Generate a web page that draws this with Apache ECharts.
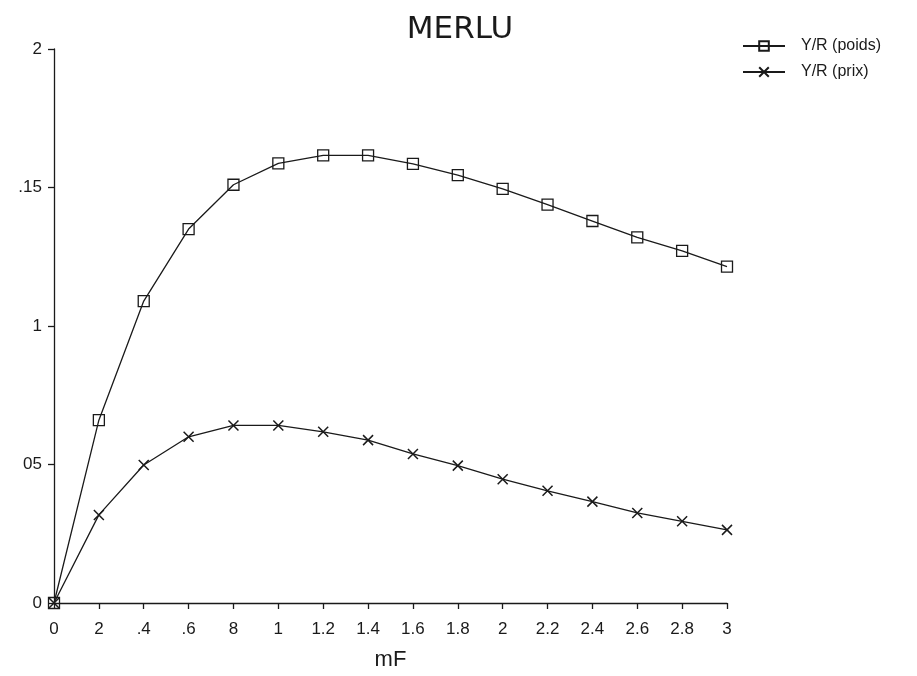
<!DOCTYPE html>
<html>
<head>
<meta charset="utf-8">
<script src="https://cdn.jsdelivr.net/npm/echarts@6/dist/echarts.min.js"></script>
<style>
html,body{margin:0;padding:0;background:#fff;}
#chart{width:917px;height:676px;}
</style>
</head>
<body>
<div id="chart"></div>
<script>
const titleText = "MERLU";
const xName = "mF";
const mF = [0, 0.2, 0.4, 0.6, 0.8, 1.0, 1.2, 1.4, 1.6, 1.8, 2.0, 2.2, 2.4, 2.6, 2.8, 3.0];
const yrPoids = [0, 0.066, 0.109, 0.135, 0.151, 0.1587, 0.1616, 0.1616, 0.1585, 0.1545, 0.1495, 0.1438, 0.1379, 0.132, 0.1271, 0.1214];
const yrPrix = [0, 0.0318, 0.0498, 0.060, 0.0641, 0.0641, 0.0618, 0.0588, 0.0538, 0.0496, 0.0447, 0.0405, 0.0366, 0.0325, 0.0295, 0.0264];
const xTickLabels = ["0", "2", ".4", ".6", "8", "1", "1.2", "1.4", "1.6", "1.8", "2", "2.2", "2.4", "2.6", "2.8", "3"];
const yTickLabels = ["0", "05", "1", ".15", "2"];
const seriesNames = ["Y/R (poids)", "Y/R (prix)"];

const ink = '#1a1a1a';
const font = 'Liberation Sans';
const chart = echarts.init(document.getElementById('chart'));

function pairs(xs, ys) { return xs.map((x, i) => [x, ys[i]]); }

chart.setOption({
  backgroundColor: '#fff',
  animation: false,
  title: {
    text: titleText,
    left: 455,
    textAlign: 'center',
    top: 9,
    textStyle: { fontFamily: 'DejaVu Sans', fontSize: 31, fontWeight: 'normal', color: ink }
  },
  legend: {
    orient: 'vertical',
    left: 737,
    top: 33,
    itemWidth: 42,
    itemHeight: 12,
    itemGap: 10,
    data: seriesNames,
    textStyle: { fontFamily: font, fontSize: 16, color: ink, padding: [0, 0, 0, 11] }
  },
  grid: { left: 54, right: 190, top: 49, bottom: 67, containLabel: false },
  xAxis: {
    type: 'value',
    min: 0, max: 3, interval: 0.2,
    name: xName,
    nameLocation: 'middle',
    nameGap: 46,
    nameTextStyle: { fontFamily: font, fontSize: 22, color: ink },
    axisLine: { show: true, lineStyle: { color: ink, width: 1.3 } },
    axisTick: { show: true, inside: false, length: 6, lineStyle: { color: ink, width: 1.3 } },
    splitLine: { show: false },
    axisLabel: {
      margin: 18,
      fontFamily: font, fontSize: 17, color: ink,
      formatter: v => xTickLabels[Math.round(v / 0.2)]
    }
  },
  yAxis: {
    type: 'value',
    min: 0, max: 0.2, interval: 0.05,
    axisLine: { show: true, lineStyle: { color: ink, width: 1.3 } },
    axisTick: { show: true, inside: false, length: 6, lineStyle: { color: ink, width: 1.3 } },
    splitLine: { show: false },
    axisLabel: {
      margin: 12,
      fontFamily: font, fontSize: 17, color: ink,
      formatter: v => yTickLabels[Math.round(v / 0.05)]
    }
  },
  series: [
    {
      name: seriesNames[0],
      type: 'line',
      data: pairs(mF, yrPoids),
      symbol: 'path://M0,0H10V10H0Z',
      symbolSize: 11,
      showAllSymbol: true,
      lineStyle: { color: ink, width: 1.3 },
      itemStyle: { color: 'rgba(0,0,0,0)', borderColor: ink, borderWidth: 1.3 }
    },
    {
      name: seriesNames[1],
      type: 'line',
      data: pairs(mF, yrPrix),
      symbol: 'path://M0,0L10,10M10,0L0,10',
      symbolSize: 10,
      showAllSymbol: true,
      lineStyle: { color: ink, width: 1.3 },
      itemStyle: { color: 'rgba(0,0,0,0)', borderColor: ink, borderWidth: 1.5 }
    }
  ]
});
</script>
</body>
</html>
